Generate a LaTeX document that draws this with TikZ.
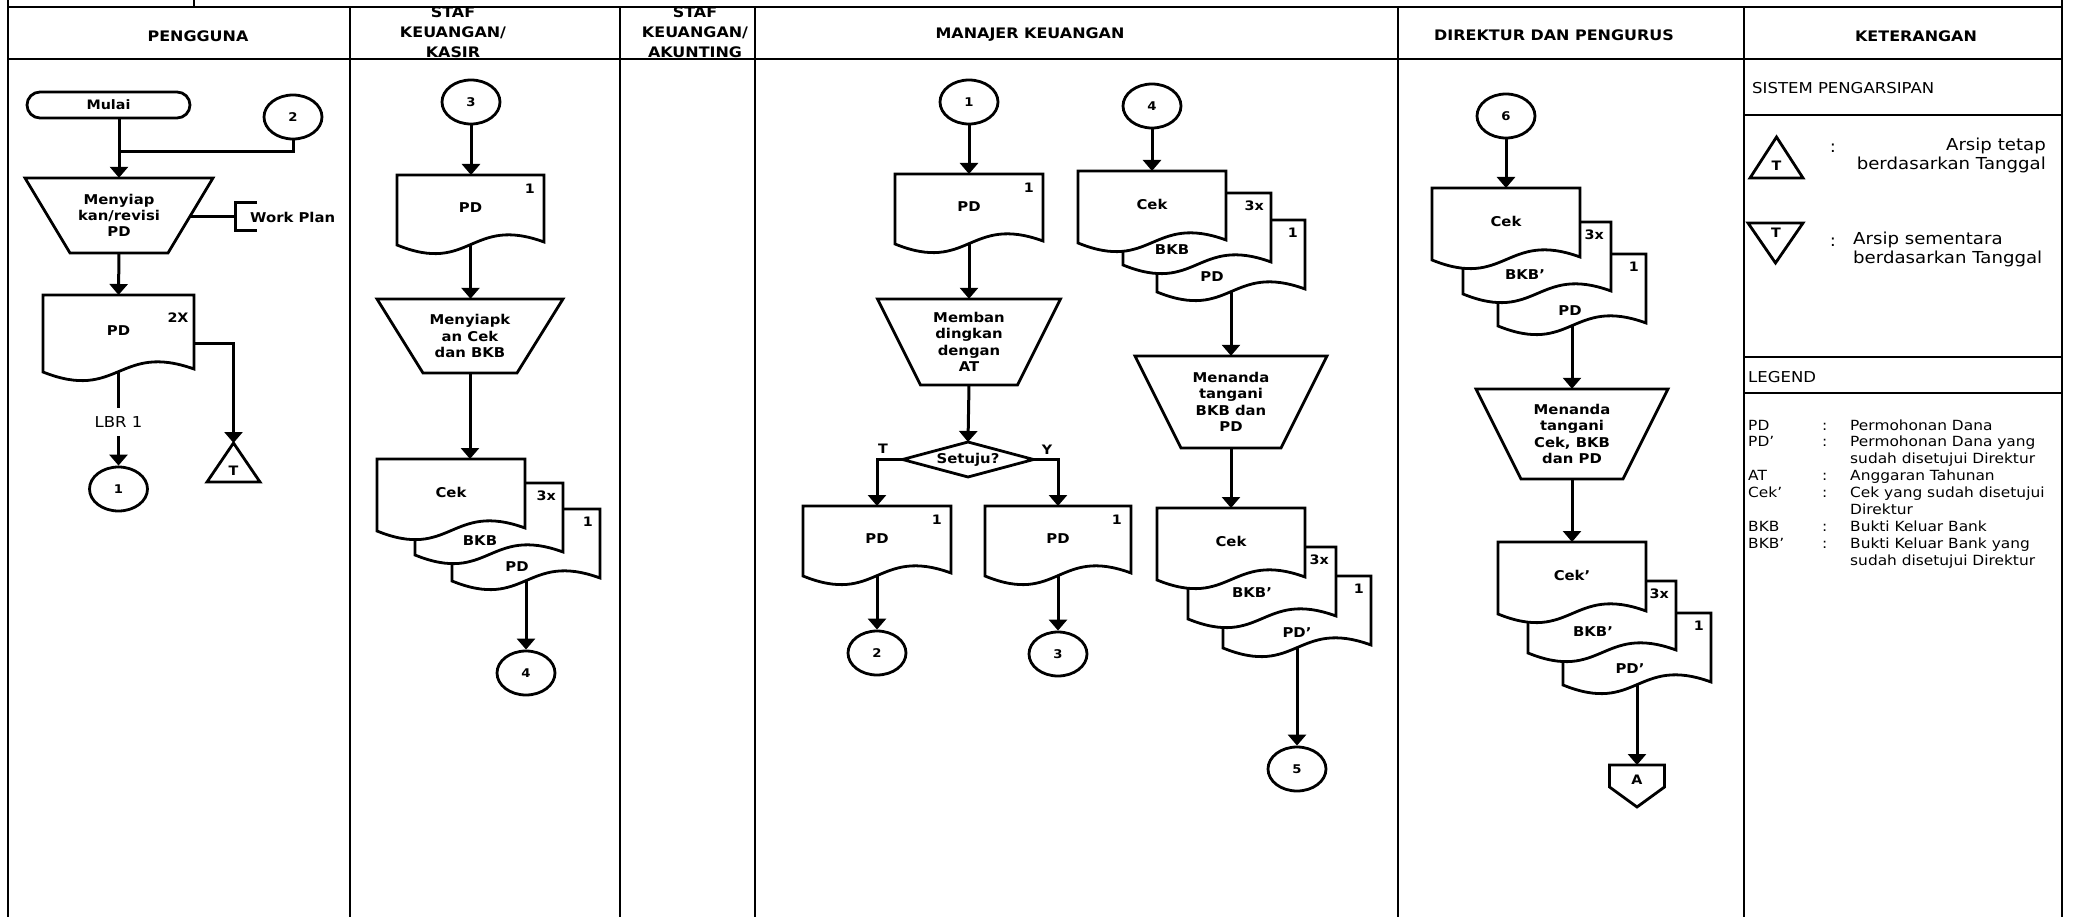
\documentclass[tikz,border=0pt]{standalone}
\usepackage{fontspec}
\setmainfont{DejaVu Sans}[FakeStretch=1.1]
\usetikzlibrary{arrows.meta,shapes.geometric}

\tikzset{
  lane/.style={line width=2.2pt},
  shp/.style={draw, line width=2.8pt, line join=miter},
  docshp/.style={draw, line width=2.8pt, fill=white},
  arr/.style={draw, line width=3pt, -{Triangle[length=11pt,width=18pt]}},
  wire/.style={draw, line width=3pt},
  box/.style={inner sep=0pt, outer sep=0pt},
  head/.style={font=\bfseries\fontsize{14.5}{20}\selectfont, align=center, inner sep=0pt},
  txt/.style={font=\bfseries\fontsize{13.5}{16.3}\selectfont, align=center, inner sep=0pt},
  num/.style={font=\bfseries\fontsize{13}{15}\selectfont, inner sep=0pt},
  conn/.style={ellipse, draw, line width=2.8pt, minimum width=58pt, minimum height=44pt,
    inner sep=0pt, font=\bfseries\fontsize{12}{14}\selectfont},
  term/.style={draw, line width=2.8pt, rounded corners=13pt, minimum width=163pt,
    minimum height=26pt, inner sep=0pt, font=\bfseries\fontsize{13}{15}\selectfont},
  sect/.style={font=\fontsize{15}{18}\selectfont, inner sep=0pt, anchor=west},
  desc/.style={font=\fontsize{16.5}{19}\selectfont, inner sep=0pt},
}

% manual operation (trapezium): name, centre x, top y, top width, bottom width, height, text
\newcommand{\manop}[7]{%
  \node[txt, minimum width=#4, minimum height=#6] (#1) at (#2,{#3+#6/2}) {#7};
  \draw[shp] ({#2-#4/2},#3) -- ({#2+#4/2},#3) -- ({#2+#5/2},{#3+#6})
    -- ({#2-#5/2},{#3+#6}) -- cycle;
}
% document outline with wavy bottom: left, top, width, height
\newcommand{\docout}[4]{%
  \draw[docshp] (#1,#2) -- ({#1+#3},#2) -- ({#1+#3},{#2+#4-3})
    .. controls ({#1+0.5*#3},{#2+#4-30}) and ({#1+0.5*#3},{#2+#4+30}) .. (#1,{#2+#4}) -- cycle;
}
% single / front document: name, left, top, width, height, label, copy mark
\newcommand{\doc}[7]{%
  \docout{#2}{#3}{#4}{#5}
  \node[box, minimum width=#4, minimum height=#5] (#1) at ({#2+#4/2},{#3+#5/2}) {};
  \node[txt] (#1-t) at ({#2+#4/2},{#3+0.46*#5}) {#6};
  \node[num, anchor=east] (#1-n) at ({#2+#4-9},{#3+14}) {#7};
}
% copy behind the front document: name, left, top, label, label x, label y, copy mark
\newcommand{\bdoc}[7]{%
  \docout{#2}{#3}{148}{72}
  \node[box, minimum width=148, minimum height=72] (#1) at ({#2+74},{#3+36}) {};
  \node[txt] (#1-t) at (#5,#6) {#4};
  \node[num, anchor=east] (#1-n) at ({#2+141},{#3+13}) {#7};
}

\begin{document}
\begin{tikzpicture}[x=1pt,y=-1pt]
\useasboundingbox (0,0) rectangle (2080,917);

% ---------- swimlane frame ----------
\draw[lane] (8,0) -- (8,917);
\draw[lane] (2062,0) -- (2062,917);
\draw[lane] (194,0) -- (194,7);
\draw[lane] (8,7) -- (2062,7);
\draw[lane] (8,59) -- (2062,59);
\foreach \lx in {350,620,755,1398,1744} \draw[lane] (\lx,7) -- (\lx,917);
\draw[lane] (1744,115) -- (2062,115);
\draw[lane] (1744,357) -- (2062,357);
\draw[lane] (1744,393) -- (2062,393);

% ---------- lane titles ----------
\node[head] (h1) at (198,36) {PENGGUNA};
\node[head] (h2) at (453,32) {STAF\\KEUANGAN/\\KASIR};
\node[head] (h3) at (695,32) {STAF\\KEUANGAN/\\AKUNTING};
\node[head] (h4) at (1030,35) {MANAJER KEUANGAN};
\node[head] (h5) at (1554,35) {DIREKTUR DAN PENGURUS};
\node[head] (h6) at (1916,36) {KETERANGAN};

% ---------- PENGGUNA ----------
\node[term] (mulai) at (108.5,105) {Mulai};
\node[conn] (p2) at (293,117) {2};
\manop{ptrap}{119}{178}{188}{98}{75}{Menyiap\\kan/revisi\\PD}
\doc{pdoc}{43}{295}{151}{77}{PD}{}
\node[num] (pdoc-x) at (178,318) {2X};
\node[box, minimum width=53, minimum height=39] (parsip) at (233.5,462.5) {};
\draw[shp] (parsip.north) -- (parsip.south east) -- (parsip.south west) -- cycle;
\node[num] (parsip-t) at (233.5,471) {T};
\node[conn] (p1) at (118.5,489) {1};
\node[font=\fontsize{15}{17}\selectfont, inner sep=0pt, minimum height=28pt] (lbr) at (118.5,422) {LBR 1};
\node[txt, anchor=west] (wp) at (250,217) {Work Plan};

\coordinate (pj) at (119,152);
\coordinate (wpa) at (190,217);
\coordinate (wpb) at (235,217);
\coordinate (pdr) at (194,343);
\draw[arr] (ptrap.north |- mulai.south) -- (ptrap.north);
\draw[wire] (p2.south) |- (pj);
\draw[wire] (wpa) -- (wpb);
\draw[wire] (257,203) -- (235,203) -- (235,231) -- (257,231);
\draw[arr] (ptrap.south) -- (pdoc.north);
\draw[arr] (pdr) -| (parsip.north);
\draw[wire] (pdoc.south) -- (lbr.north);
\draw[arr] (lbr.south) -- (p1.north);

% ---------- STAF KEUANGAN / KASIR ----------
\node[conn] (k3) at (471,102) {3};
\doc{kpd}{397}{175}{147}{70}{PD}{1}
\manop{ktrap}{470}{299}{186}{94}{74}{Menyiapk\\an Cek\\dan BKB}
\bdoc{kpd2}{452}{509}{PD}{517}{567}{1}
\bdoc{kbkb}{415}{483}{BKB}{480}{541}{3x}
\doc{kcek}{377}{459}{148}{72}{Cek}{}
\node[conn] (k4) at (526,673) {4};

\draw[arr] (k3.south) -- (k3.south |- kpd.north);
\draw[arr] (kpd.south) -- (kpd.south |- ktrap.north);
\draw[arr] (ktrap.south) -- (ktrap.south |- kcek.north);
\draw[arr] (kpd2.south) -- (k4.north);

% ---------- MANAJER KEUANGAN ----------
\node[conn] (m1) at (969,102) {1};
\doc{mpd}{895}{174}{148}{70}{PD}{1}
\manop{mtrap}{969}{299}{183}{97}{86}{Memban\\dingkan\\dengan\\AT}
\node[txt, box, minimum width=131, minimum height=35] (dec) at (968,459.5) {Setuju?};
\draw[shp] (dec.north) -- (dec.east) -- (dec.south) -- (dec.west) -- cycle;
\node[num] (dec-t) at (883,449) {T};
\node[num] (dec-y) at (1047,450) {Y};
\doc{mpdl}{803}{506}{148}{70}{PD}{1}
\doc{mpdr}{985}{506}{146}{70}{PD}{1}
\node[conn] (m2) at (877,653) {2};
\node[conn] (m3) at (1058,654) {3};

\draw[arr] (m1.south) -- (mpd.north);
\draw[arr] (mpd.south) -- (mtrap.north);
\draw[arr] (mtrap.south) -- (dec.north);
\draw[arr] (dec.west) -| (mpdl.north);
\draw[arr] (dec.east) -| (mpdr.north);
\draw[arr] (mpdl.south) -- (m2.north);
\draw[arr] (mpdr.south) -- (m3.north);

\node[conn] (m4) at (1152,106) {4};
\bdoc{mpd3}{1157}{220}{PD}{1212}{277}{1}
\bdoc{mbkb}{1123}{193}{BKB}{1172}{250}{3x}
\doc{mcek}{1078}{171}{148}{72}{Cek}{}
\manop{mtrap2}{1231}{356}{192}{100}{92}{Menanda\\tangani\\BKB dan\\PD}
\bdoc{mpd4}{1223}{576}{PD'}{1297}{633}{1}
\bdoc{mbkb2}{1188}{547}{BKB'}{1252}{593}{3x}
\doc{mcek2}{1157}{508}{148}{72}{Cek}{}
\node[conn] (m5) at (1297,769) {5};

\draw[arr] (m4.south) -- (m4.south |- mcek.north);
\draw[arr] (mpd3.south) -- (mtrap2.north);
\draw[arr] (mtrap2.south) -- (mcek2.north);
\draw[arr] (mpd4.south) -- (m5.north);

% ---------- DIREKTUR DAN PENGURUS ----------
\node[conn] (d6) at (1506,116) {6};
\bdoc{dpd}{1498}{254}{PD}{1570}{311}{1}
\bdoc{dbkb}{1463}{222}{BKB'}{1525}{275}{3x}
\doc{dcek}{1432}{188}{148}{72}{Cek}{}
\manop{dtrap}{1572}{389}{192}{102}{90}{Menanda\\tangani\\Cek, BKB\\dan PD}
\bdoc{dpd2}{1563}{613}{PD'}{1630}{669}{1}
\bdoc{dbkb2}{1528}{581}{BKB'}{1593}{632}{3x}
\doc{dcek2}{1498}{542}{148}{72}{Cek'}{}
\node[box, minimum width=55, minimum height=42] (dA) at (1637,786) {};
\draw[shp] (dA.north west) -- (dA.north east) -- ([yshift=-22pt]dA.north east)
  -- (dA.south) -- ([yshift=-22pt]dA.north west) -- cycle;
\node[num] (dA-t) at (1637,780) {A};

\draw[arr] (d6.south) -- (d6.south |- dcek.north);
\draw[arr] (dpd.south) -- (dtrap.north);
\draw[arr] (dtrap.south) -- (dcek2.north);
\draw[arr] (dpd2.south) -- (dA.north);

% ---------- KETERANGAN ----------
\node[sect] (ks) at (1752,88) {SISTEM PENGARSIPAN};
\node[box, minimum width=53, minimum height=41] (kup) at (1776.5,157.5) {};
\draw[shp] (kup.north) -- (kup.south east) -- (kup.south west) -- cycle;
\node[num] (kup-t) at (1776.5,166) {T};
\node[desc] (kup-c) at (1833,148) {:};
\node[desc, align=right, anchor=north east] (kup-d) at (2046,138) {Arsip tetap\\berdasarkan Tanggal};

\node[box, minimum width=55, minimum height=40] (kdn) at (1775.5,243) {};
\draw[shp] (kdn.north west) -- (kdn.north east) -- (kdn.south) -- cycle;
\node[num] (kdn-t) at (1776,233) {T};
\node[desc] (kdn-c) at (1833,242) {:};
\node[desc, align=left, anchor=north west] (kdn-d) at (1853,232) {Arsip sementara\\berdasarkan Tanggal};

\node[sect] (kl) at (1748,377) {LEGEND};
\node[inner sep=0pt, anchor=base west, font=\fontsize{14}{16.9}\selectfont] (legend) at (1748,430)
{\begin{tabular}[t]{@{}p{74pt}@{}p{28pt}@{}l@{}}
PD & : & Permohonan Dana\\
PD' & : & Permohonan Dana yang\\
 & & sudah disetujui Direktur\\
AT & : & Anggaran Tahunan\\
Cek' & : & Cek yang sudah disetujui\\
 & & Direktur\\
BKB & : & Bukti Keluar Bank\\
BKB' & : & Bukti Keluar Bank yang\\
 & & sudah disetujui Direktur
\end{tabular}};
\end{tikzpicture}
\end{document}
